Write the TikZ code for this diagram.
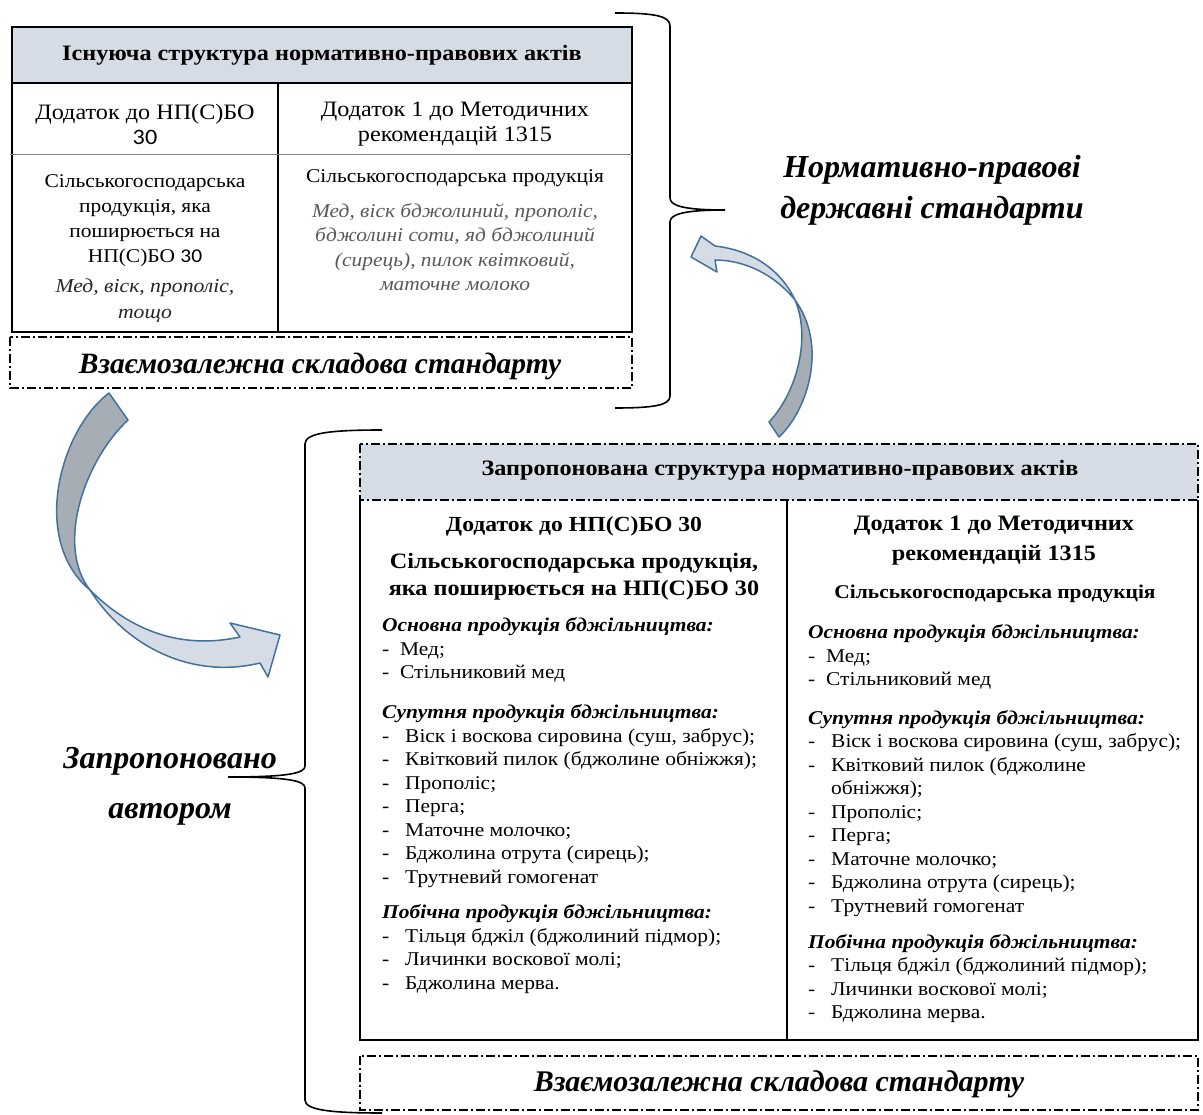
\documentclass[tikz,border=0pt]{standalone}
\usepackage{fontspec}
\setmainfont{Liberation Serif}[FakeStretch=1.1]
\newfontfamily\labelfont{Liberation Serif}
\newfontfamily\calfont{Carlito}[FakeStretch=1.1]
\definecolor{headfill}{HTML}{D6DCE5}
\definecolor{arrowline}{HTML}{41719C}
\definecolor{arrowdark}{HTML}{A6ADB5}
\definecolor{greytext}{HTML}{595959}
\newcommand{\fs}[2]{\fontsize{#1}{#2}\selectfont}
\newcommand{\itm}[1]{\makebox[23pt][l]{-}#1}
\newcommand{\itmn}[1]{\makebox[18pt][l]{-}#1}
\begin{document}
\begin{tikzpicture}[x=1pt, y=-1pt,
    box/.style={draw, line width=1.8pt},
    dashdot/.style={draw, line width=1.8pt, dash pattern=on 9pt off 3pt on 2pt off 3pt},
    lbl/.style={inner sep=0pt, align=center},
    tag/.style={inner sep=0pt, align=center, font=\labelfont\bfseries\itshape\fs{#1}{41}},
    lst/.style={inner sep=0pt, align=left, anchor=north west, font=\fs{19.5}{23.5}},
    bent/.style={draw=arrowline, line width=1.5pt, line join=round},
    brace/.style={draw, line width=1.6pt}]
    \useasboundingbox (0,0) rectangle (1203,1115);
    % existing structure
    \draw[box, fill=headfill] (12,27) rectangle (632,83);
    \draw[box] (12,83) rectangle (632,332);
    \draw[line width=1.4pt] (278,83) -- (278,332);
    \draw[line width=0.8pt, gray] (10,154) -- (632,154);
    \node[lbl, font=\bfseries\fs{22}{24}] (oldhead) at (322,55) {Існуюча структура нормативно-правових актів};
    \node[lbl, font=\fs{22}{25}] (oldleft) at (145,124) {Додаток до НП(С)БО\\{\calfont 30}};
    \node[lbl, font=\fs{22}{25}] (oldright) at (455,124) {Додаток 1 до Методичних\\рекомендацій 1315};
    \node[lbl, font=\fs{19.5}{25}] (oldprod) at (145,221) {Сільськогосподарська\\продукція, яка\\поширюється на\\НП(С)БО {\calfont 30}};
    \node[lbl, font=\itshape\fs{19.7}{26}, text=black!85] (oldlist) at (145,301) {Мед, віск, прополіс,\\тощо};
    \node[lbl, font=\fs{19.5}{24}] (oldprod2) at (455,178) {Сільськогосподарська продукція};
    \node[lbl, font=\itshape\fs{19.5}{24.3}, text=greytext] (oldlist2) at (455,247) {Мед, віск бджолиний, прополіс,\\бджолині соти, яд бджолиний\\(сирець), пилок квітковий,\\маточне молоко};
    \draw[dashdot] (10,337) rectangle (632,388);
    \node[tag=29.5] (oldlink) at (320,366) {Взаємозалежна складова стандарту};
    % brace and label
    \draw[brace] (615,13) .. controls (655,13) and (670,16) .. (670,26) -- (670,198) .. controls (670,206) and (685,210) .. (725,210) .. controls (685,210) and (670,214) .. (670,222) -- (670,396) .. controls (670,405) and (655,408) .. (615,408);
    \node[tag=32] (stdlabel) at (932,190) {Нормативно-правові\\державні стандарти};
    % bent arrows
    \filldraw[bent, fill=arrowdark] (109,393) -- (128,420) .. controls (85,460) and (55,545) .. (90,590) .. controls (30,540) and (60,430) .. (109,393) -- cycle;
    \filldraw[bent, fill=headfill] (90,590) .. controls (130,630) and (180,650) .. (240,637) -- (230,623) -- (280,635) -- (268,677) -- (260,663) .. controls (190,680) and (125,645) .. (90,590) -- cycle;
    \filldraw[bent, fill=arrowdark] (769,422) -- (779,437) .. controls (808,410) and (828,345) .. (795,300) .. controls (812,340) and (795,395) .. (769,422) -- cycle;
    \filldraw[bent, fill=headfill] (795,300) .. controls (780,268) and (750,250) .. (715,246) -- (701,236) -- (691,257) -- (717,272) -- (715,260) .. controls (745,260) and (775,275) .. (795,300) -- cycle;
    % proposed structure
    \draw[dashdot, fill=headfill] (360,444) rectangle (1198,500);
    \draw[line width=2.2pt] (360,500) -- (360,1040) -- (1198,1040) -- (1198,500);
    \draw[line width=1.4pt] (787,500) -- (787,1040);
    \node[lbl, font=\bfseries\fs{22}{24}] (newhead) at (780,470) {Запропонована структура нормативно-правових актів};
    \node[lbl, font=\bfseries\fs{21.5}{27}] (newleft) at (574,526) {Додаток до НП(С)БО 30};
    \node[lbl, font=\bfseries\fs{22}{27}] (newprod) at (574,577) {Сільськогосподарська продукція,\\яка поширюється на НП(С)БО 30};
    \node[lbl, font=\bfseries\fs{22}{30}] (newright) at (994,541) {Додаток 1 до Методичних\\рекомендацій 1315};
    \node[lbl, font=\bfseries\fs{19.5}{22}] (newprod2) at (995,594) {Сільськогосподарська продукція};
    \node[lst] (leftmain) at (382,617.5) {\textbf{\textit{Основна продукція бджільництва:}}\\\itmn{Мед;}\\\itmn{Стільниковий мед}};
    \node[lst] (leftside) at (382,704.5) {\textbf{\textit{Супутня продукція бджільництва:}}\\\itm{Віск і воскова сировина (суш, забрус);}\\\itm{Квітковий пилок (бджолине обніжжя);}\\\itm{Прополіс;}\\\itm{Перга;}\\\itm{Маточне молочко;}\\\itm{Бджолина отрута (сирець);}\\\itm{Трутневий гомогенат}};
    \node[lst] (leftby) at (382,904.5) {\textbf{\textit{Побічна продукція бджільництва:}}\\\itm{Тільця бджіл (бджолиний підмор);}\\\itm{Личинки воскової молі;}\\\itm{Бджолина мерва.}};
    \node[lst] (rightmain) at (808,624.5) {\textbf{\textit{Основна продукція бджільництва:}}\\\itmn{Мед;}\\\itmn{Стільниковий мед}};
    \node[lst] (rightside) at (808,710) {\textbf{\textit{Супутня продукція бджільництва:}}\\\itm{Віск і воскова сировина (суш, забрус);}\\\itm{Квітковий пилок (бджолине}\\\hspace*{23pt}обніжжя);\\\itm{Прополіс;}\\\itm{Перга;}\\\itm{Маточне молочко;}\\\itm{Бджолина отрута (сирець);}\\\itm{Трутневий гомогенат}};
    \node[lst] (rightby) at (808,934) {\textbf{\textit{Побічна продукція бджільництва:}}\\\itm{Тільця бджіл (бджолиний підмор);}\\\itm{Личинки воскової молі;}\\\itm{Бджолина мерва.}};
    \draw[dashdot] (360,1056) rectangle (1198,1110);
    \node[tag=30] (newlink) at (779,1084) {Взаємозалежна складова стандарту};
    % brace and label
    \draw[brace] (382,430) .. controls (330,430) and (305,433) .. (305,444) -- (305,766) .. controls (305,773) and (290,777) .. (228,777) .. controls (290,777) and (305,781) .. (305,788) -- (305,1100) .. controls (305,1110) and (330,1113) .. (382,1113);
    \node[tag=32, font=\labelfont\bfseries\itshape\fs{32}{50}] (authlabel) at (170,786) {Запропоновано\\автором};
\end{tikzpicture}
\end{document}
